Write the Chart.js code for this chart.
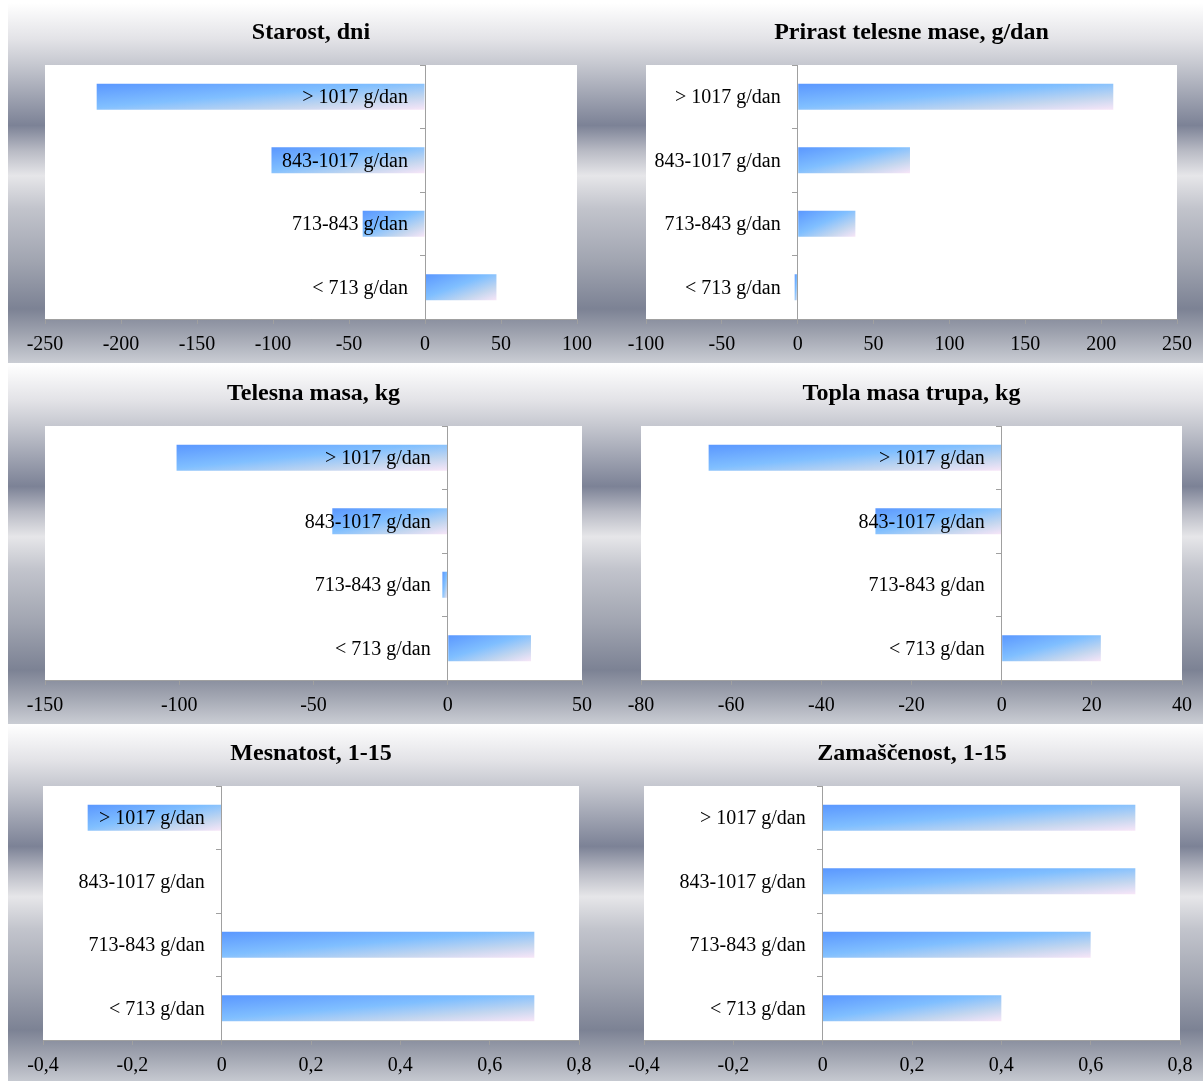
<!DOCTYPE html>
<html>
<head>
<meta charset="utf-8">
<script src="https://cdn.jsdelivr.net/npm/chart.js@4"></script>
<style>
  html, body { margin: 0; padding: 0; background: #ffffff; width: 1203px; height: 1081px; overflow: hidden; }
  .panel {
    position: absolute;
    background: linear-gradient(to bottom,
      #ffffff 0%, #e3e3e7 10%, #c6c8d0 17%, #7c8296 34%, #b8bac4 41%,
      #e6e6e9 48%, #c2c4cc 57%, #a0a4b0 72%, #7c8294 85%, #a0a4b0 92%, #cacdd4 100%);
  }
  canvas { display: block; }
</style>
</head>
<body>
<script>
// ---------------- DATA ----------------
const categories = ['> 1017 g/dan', '843-1017 g/dan', '713-843 g/dan', '< 713 g/dan'];
const chartTitles = ['Starost, dni', 'Prirast telesne mase, g/dan', 'Telesna masa, kg',
                     'Topla masa trupa, kg', 'Mesnatost, 1-15', 'Zamaščenost, 1-15'];
const starostValues     = [-216, -101, -41, 47];
const prirastValues     = [208, 74, 38, -2];
const telesnaMasaValues = [-101, -43, -2, 31];
const toplaMasaValues   = [-65, -28, 0, 22];
const mesnatostValues   = [-0.3, 0, 0.7, 0.7];
const zamascenostValues = [0.7, 0.7, 0.6, 0.4];
const axisMin  = [-250, -100, -150, -80, -0.4, -0.4];
const axisMax  = [100, 250, 50, 40, 0.8, 0.8];
const axisStep = [50, 50, 50, 20, 0.2, 0.2];

const seriesValues = [starostValues, prirastValues, telesnaMasaValues,
                      toplaMasaValues, mesnatostValues, zamascenostValues];

// ---------------- LAYOUT ----------------
const PANEL_H = 360;
const CHART_TOP = 62;
const CHART_H = 254;
const BAR_FRACTION = 0.41;
const LABEL_GAP = 17;
const LABEL_DROP = 1;
const TITLE_PAD_TOP = 15.5;
const panels = [
  { left: 8,   top: 3,   width: 595, padL: 37, padR: 26 },
  { left: 603, top: 3,   width: 600, padL: 43, padR: 26 },
  { left: 8,   top: 364, width: 595, padL: 37, padR: 21 },
  { left: 603, top: 364, width: 600, padL: 38, padR: 21 },
  { left: 8,   top: 724, width: 595, padL: 35, padR: 24 },
  { left: 603, top: 724, width: 600, padL: 41, padR: 23 }
];

const FONT = "'Liberation Serif', 'Times New Roman', serif";
Chart.defaults.font.family = FONT;
Chart.defaults.color = '#000';

function fmtTick(v) {
  const s = Number(Number(v).toFixed(3)).toString();
  return s.replace('.', ',');
}

function barFill(ctx) {
  const chart = ctx.chart;
  const a = chart.chartArea;
  const xs = chart.scales.x;
  if (ctx.type !== 'data' || !a || !xs) return '#7fb8ff';
  const v = ctx.raw;
  const xa = xs.getPixelForValue(0), xb = xs.getPixelForValue(v);
  const left = Math.min(xa, xb);
  const w = Math.max(Math.abs(xb - xa), 1);
  const band = (a.bottom - a.top) / categories.length;
  const h = band * BAR_FRACTION;
  const top = a.top + (ctx.dataIndex + 0.5) * band - h / 2;
  const ux = 1 / (2 * w), uy = 1 / (2 * h), n = ux * ux + uy * uy;
  const g = chart.ctx.createLinearGradient(left, top, left + ux / n, top + uy / n);
  g.addColorStop(0, '#5a97ff');
  g.addColorStop(0.45, '#80bfff');
  g.addColorStop(0.75, '#c3d6ef');
  g.addColorStop(1, '#f8e6f8');
  return g;
}

const panelPlugin = {
  id: 'panelPlugin',
  beforeDraw(chart) {
    const { ctx, chartArea: a } = chart;
    ctx.save();
    ctx.fillStyle = '#ffffff';
    ctx.fillRect(a.left, a.top, a.right - a.left, a.bottom - a.top);
    ctx.restore();
    const zero = chart.scales.x.getPixelForValue(0);
    const ys = chart.scales.y;
    ys.getLabelItems().forEach((it, k) => {
      it.options.translation[0] = zero - LABEL_GAP;
      it.options.translation[1] = ys.getPixelForValue(k) + LABEL_DROP;
      it.options.textAlign = 'right';
    });
  }
};

panels.forEach((p, i) => {
  const div = document.createElement('div');
  div.className = 'panel';
  div.style.left = p.left + 'px';
  div.style.top = p.top + 'px';
  div.style.width = p.width + 'px';
  div.style.height = PANEL_H + 'px';
  const cv = document.createElement('canvas');
  cv.width = p.width;
  cv.height = PANEL_H;
  cv.style.width = p.width + 'px';
  cv.style.height = PANEL_H + 'px';
  div.appendChild(cv);
  document.body.appendChild(div);

  new Chart(cv, {
    type: 'bar',
    data: {
      labels: categories,
      datasets: [{
        data: seriesValues[i],
        backgroundColor: barFill,
        borderWidth: 0,
        barPercentage: BAR_FRACTION,
        categoryPercentage: 1
      }]
    },
    options: {
      indexAxis: 'y',
      responsive: false,
      animation: false,
      devicePixelRatio: 1,
      layout: { padding: { left: p.padL, right: p.padR, top: 0, bottom: 0 } },
      plugins: {
        legend: { display: false },
        tooltip: { enabled: false },
        title: {
          display: true,
          text: chartTitles[i],
          color: '#000',
          font: { family: FONT, size: 24, weight: 'bold' },
          padding: { top: TITLE_PAD_TOP, bottom: CHART_TOP - TITLE_PAD_TOP - 28.8 }
        }
      },
      scales: {
        x: {
          type: 'linear',
          min: axisMin[i],
          max: axisMax[i],
          ticks: {
            stepSize: axisStep[i],
            color: '#000',
            font: { family: FONT, size: 20 },
            padding: 9,
            maxRotation: 0,
            autoSkip: false,
            callback: fmtTick
          },
          grid: { drawOnChartArea: false, drawTicks: true, tickLength: 5, color: '#a0a0a0' },
          border: { display: true, color: '#a0a0a0', width: 1 },
          afterFit: (s) => { s.height = PANEL_H - CHART_TOP - CHART_H; }
        },
        y: {
          type: 'category',
          position: { x: 0 },
          offset: true,
          ticks: { color: '#000', font: { family: FONT, size: 20 }, padding: 12, autoSkip: false, z: 2 },
          grid: { drawOnChartArea: false, drawTicks: true, tickLength: 5, color: '#a0a0a0', offset: true, z: 1 },
          border: { display: true, color: '#a0a0a0', width: 1, z: 1 }
        }
      }
    },
    plugins: [panelPlugin]
  });
});
</script>
</body>
</html>
